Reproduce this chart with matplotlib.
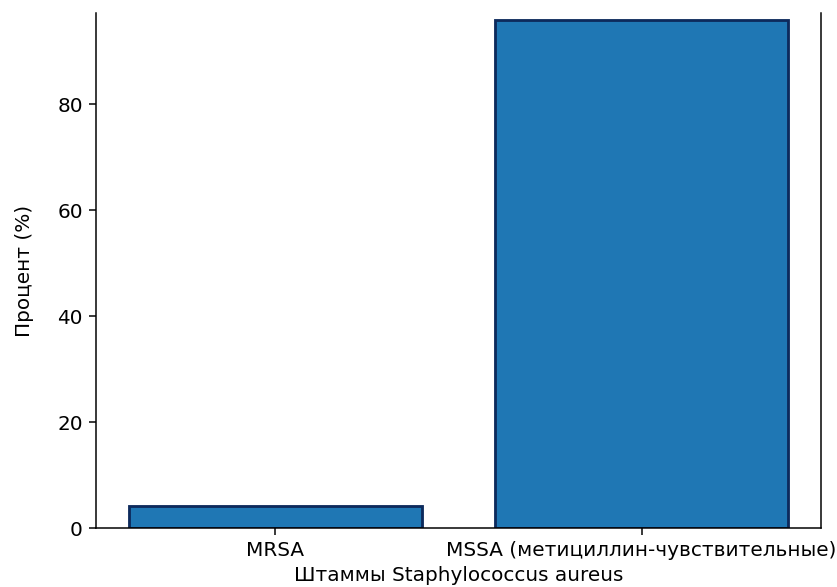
import matplotlib.pyplot as plt

strains = ['MRSA', 'MSSA (метициллин-чувствительные)']
percent = [4.2, 95.8]

plt.rcParams['font.size'] = 10.6

dpi = 136
fig = plt.figure(figsize=(837 / dpi, 587 / dpi), dpi=dpi)
ax = fig.add_axes([96 / 837, 59 / 587, 725 / 837, 515 / 587])

ax.bar(strains, percent, color='#1f77b4', edgecolor='#0d2a5c', linewidth=1.5)
ax.set_ylim(0, 97.2)
ax.set_yticks([0, 20, 40, 60, 80])
ax.spines['top'].set_visible(False)
ax.set_xlabel('Штаммы Staphylococcus aureus', labelpad=3)
ax.set_ylabel('Процент (%)', labelpad=12)

fig.savefig('out.png', dpi=dpi)
